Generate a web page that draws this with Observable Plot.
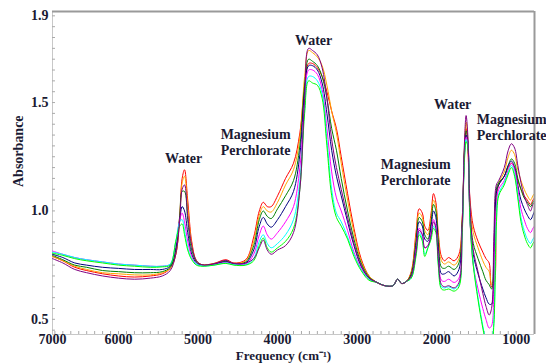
<!DOCTYPE html>
<html><head><meta charset="utf-8">
<script src="https://cdn.jsdelivr.net/npm/d3@7"></script>
<script src="https://cdn.jsdelivr.net/npm/@observablehq/plot@0.6"></script>
<style>body{margin:0;background:#fff}</style>
</head><body><div id="chart"></div>
<script>
// Frequency grid (cm^-1)
const freq = [
 6830,6700,6550,6400,6200,6000,5800,5600,5450,5350,
 5280,5230,5200,5170,5130,5080,5020,4950,4800,4650,
 4550,4400,4300,4230,4180,4130,4080,4000,3900,3800,
 3720,3660,3610,3560,3500,3440,3380,3320,3260,3200,
 3120,3040,2950,2850,2750,2650,2550,2490,2440,2380,
 2320,2260,2220,2180,2150,2110,2070,2040,2010,1980,
 1940,1900,1850,1780,1720,1680,1650,1630,1610,1580,
 1540,1480,1420,1380,1340,1310,1280,1250,1220,1150,
 1100,1060,1020,980,940,900,860,820,790,770];

const red = [
 .79,.77,.74,.725,.71,.70,.695,.70,.71,.735,
 .80,.98,1.15,1.19,1.05,.86,.77,.752,.758,.775,
 .76,.775,.88,1.00,1.04,1.02,1.02,1.07,1.15,1.22,
 1.36,1.58,1.68,1.68,1.66,1.62,1.55,1.46,1.38,1.25,
 1.08,.92,.78,.70,.67,.655,.655,.685,.665,.675,
 .72,.90,1.01,.99,.93,.91,.99,1.08,1.04,.90,
 .79,.77,.785,.77,.80,.96,1.28,1.38,1.30,1.05,
 .93,.86,.81,.78,.76,.65,.66,1.05,1.12,1.16,
 1.20,1.22,1.20,1.14,1.10,1.07,1.05,1.03,1.05,1.06];
const orange = [
 .79,.77,.745,.73,.715,.71,.705,.705,.715,.735,
 .80,.97,1.13,1.16,1.02,.85,.77,.752,.756,.77,
 .758,.77,.86,.98,1.02,1.00,.995,1.04,1.12,1.19,
 1.34,1.62,1.74,1.73,1.71,1.67,1.58,1.46,1.36,1.22,
 1.05,.90,.77,.70,.67,.655,.655,.685,.665,.675,
 .715,.88,.99,.97,.91,.89,.97,1.05,1.02,.88,
 .77,.755,.765,.75,.78,.95,1.30,1.41,1.34,1.02,
 .90,.83,.77,.74,.72,.66,.70,1.08,1.13,1.18,
 1.25,1.28,1.26,1.19,1.14,1.10,1.07,1.05,1.07,1.08];
const green = [
 .795,.775,.75,.74,.725,.72,.715,.715,.72,.74,
 .82,.98,1.09,1.09,.96,.82,.765,.75,.755,.768,
 .756,.765,.84,.96,1.00,.975,.965,1.01,1.07,1.14,
 1.30,1.58,1.70,1.69,1.67,1.62,1.52,1.38,1.28,1.15,
 1.00,.87,.76,.695,.67,.655,.655,.685,.665,.675,
 .71,.86,.97,.95,.89,.87,.95,1.03,1.00,.86,
 .74,.735,.745,.73,.76,.94,1.29,1.37,1.33,.98,
 .85,.78,.72,.68,.66,.64,.80,1.10,1.13,1.16,
 1.21,1.24,1.22,1.15,1.10,1.06,1.04,1.02,1.04,1.05];
const navy = [
 .80,.785,.76,.75,.74,.735,.73,.73,.73,.745,
 .83,.96,1.02,1.00,.90,.80,.76,.748,.754,.765,
 .755,.76,.82,.93,.97,.94,.925,.96,1.02,1.09,
 1.26,1.55,1.67,1.67,1.65,1.59,1.45,1.28,1.16,1.07,
 .95,.84,.745,.69,.67,.655,.655,.685,.665,.675,
 .70,.84,.95,.93,.87,.86,.93,1.00,.97,.83,
 .71,.71,.72,.70,.73,.92,1.27,1.35,1.32,.95,
 .80,.71,.64,.60,.57,.57,.75,1.08,1.12,1.16,
 1.21,1.23,1.20,1.12,1.05,1.01,.98,.96,.98,1.00];
const magenta = [
 .815,.80,.785,.775,.765,.755,.75,.745,.745,.755,
 .85,.96,.99,.95,.86,.79,.755,.748,.752,.762,
 .753,.755,.80,.89,.93,.89,.87,.90,.95,1.02,
 1.20,1.50,1.65,1.65,1.63,1.56,1.38,1.18,1.06,1.00,
 .91,.81,.735,.685,.67,.655,.655,.685,.665,.675,
 .695,.82,.92,.89,.83,.84,.90,.96,.93,.79,
 .68,.675,.685,.67,.69,.90,1.26,1.34,1.32,.95,
 .75,.64,.55,.50,.46,.47,.65,1.02,1.10,1.14,
 1.19,1.22,1.19,1.10,1.01,.96,.92,.90,.92,.93];
const cyan = [
 .81,.80,.785,.775,.765,.755,.75,.745,.745,.755,
 .86,.95,.96,.91,.83,.78,.755,.746,.75,.76,
 .752,.752,.78,.86,.89,.85,.83,.85,.89,.96,
 1.14,1.47,1.62,1.62,1.60,1.54,1.33,1.10,.99,.95,
 .88,.80,.73,.685,.67,.655,.655,.685,.665,.675,
 .69,.80,.90,.87,.80,.83,.88,.93,.91,.76,
 .65,.645,.65,.64,.66,.89,1.25,1.33,1.31,.96,
 .76,.60,.47,.40,.36,.38,.50,.95,1.08,1.13,
 1.18,1.21,1.17,1.07,.97,.91,.87,.85,.87,.88];
const lime = [
 .805,.795,.78,.77,.76,.75,.745,.74,.742,.75,
 .86,.93,.94,.89,.82,.775,.75,.745,.75,.758,
 .75,.75,.77,.84,.875,.83,.81,.83,.86,.92,
 1.10,1.45,1.60,1.59,1.58,1.52,1.30,1.07,.97,.93,
 .87,.79,.725,.68,.67,.655,.655,.685,.665,.675,
 .69,.79,.89,.86,.79,.83,.87,.92,.90,.75,
 .64,.635,.64,.63,.65,.88,1.24,1.32,1.30,.95,
 .75,.59,.46,.39,.35,.37,.48,.93,1.07,1.12,
 1.17,1.20,1.16,1.06,.95,.89,.85,.83,.85,.86];
const purple = [
 .78,.76,.73,.715,.70,.69,.685,.69,.70,.725,
 .80,.96,1.10,1.12,.98,.84,.77,.752,.756,.772,
 .758,.76,.78,.83,.865,.82,.80,.82,.84,.90,
 1.10,1.52,1.75,1.74,1.72,1.66,1.52,1.33,1.20,1.10,
 .97,.85,.75,.69,.67,.655,.655,.685,.665,.675,
 .70,.81,.91,.89,.83,.84,.89,.95,.92,.78,
 .66,.65,.655,.645,.67,.92,1.32,1.44,1.36,1.02,
 .82,.72,.62,.56,.52,.55,.90,1.12,1.14,1.20,
 1.28,1.31,1.29,1.21,1.13,1.07,1.03,1.00,1.03,1.04];

const seriesNames = ["red","orange","green","navy","magenta","cyan","lime","purple"];
const seriesValues = [red, orange, green, navy, magenta, cyan, lime, purple];
const seriesColors = ["#ff1f1f","#ffa000","#2f9a2f","#3d3db8","#ff45ff","#1fe0e0","#35e04a","#a040c0"];

const xTickLabels = [7000, 6000, 5000, 4000, 3000, 2000, 1000];
const yTickLabels = [0.5, 1.0, 1.5, 1.9];
const xDomain = [6830, 770];
const yDomain = [0.43, 1.92];
const xTitle = "Frequency (cm⁻¹)";
const yTitle = "Absorbance";

const annotations = [
  {f: 5182, a: 1.245, label: "Water"},
  {f: 4276, a: 1.32, label: "Magnesium\nPerchlorate"},
  {f: 3547, a: 1.787, label: "Water"},
  {f: 2264, a: 1.18, label: "Magnesium\nPerchlorate"},
  {f: 1799, a: 1.495, label: "Water"},
  {f: 1057, a: 1.39, label: "Magnesium\nPerchlorate"}
];

const data = [];
seriesNames.forEach((name, s) => seriesValues[s].forEach((v, i) => data.push({series: name, freq: freq[i], absorbance: v})));

const xTickPos = xTickLabels.map(v => Math.min(v, xDomain[0]));
const xTicks = xTickPos.map((p, i) => ({pos: p, label: String(xTickLabels[i])}));
const xMinor = d3.range(1000, 7000, 100).filter(v => v <= xDomain[0] && v >= xDomain[1]);
const yMinor = d3.range(0.45, 1.92, 0.05);

const ink = "#1a1a33";
const font = "'Liberation Serif', 'Times New Roman', serif";
const txt = {fontSize: 14, fontWeight: "bold", fill: ink, fontFamily: font};

const chart = Plot.plot({
  width: 546, height: 364,
  marginLeft: 52, marginRight: 12, marginTop: 11, marginBottom: 30,
  style: {fontFamily: font, fontWeight: "bold", fontSize: "14px", color: ink, background: "#fff"},
  x: {domain: xDomain, axis: null},
  y: {domain: yDomain, axis: null},
  color: {domain: seriesNames, range: seriesColors},
  marks: [
    Plot.ruleX([xDomain[0]], {stroke: "#c8c8c8"}),
    Plot.ruleY([yDomain[0]], {stroke: "#c8c8c8"}),
    Plot.axisX({ticks: xMinor, tickSize: 3, dy: -3, text: null, stroke: "#aaa", label: null}),
    Plot.axisY({ticks: yMinor, tickSize: 3, dx: 3, text: null, stroke: "#aaa", label: null}),
    Plot.text(xTicks, {x: "pos", y: () => yDomain[0], text: "label", lineAnchor: "top", dy: 0, ...txt}),
    Plot.text(yTickLabels, {x: () => xDomain[0], y: d => d, text: d => d.toFixed(1), textAnchor: "end", dx: -4, ...txt}),
    Plot.text([xTitle], {frameAnchor: "bottom", text: d => d, dy: 25, dx: -10, ...txt, fontSize: 13}),
    Plot.text([yTitle], {frameAnchor: "left", text: d => d, rotate: -90, dx: -34, dy: 14, ...txt}),
    Plot.line(data, {x: "freq", y: "absorbance", z: "series", stroke: "series", strokeWidth: 1, curve: "catmull-rom", clip: true}),
    Plot.ruleY([yDomain[1]], {stroke: "#9a9a9a", strokeWidth: 2}),
    Plot.ruleX([xDomain[1]], {stroke: "#9a9a9a", strokeWidth: 2}),
    Plot.text(annotations, {x: "f", y: "a", text: "label", lineHeight: 1.15, ...txt})
  ]
});
document.getElementById("chart").appendChild(chart);
</script>
</body></html>
